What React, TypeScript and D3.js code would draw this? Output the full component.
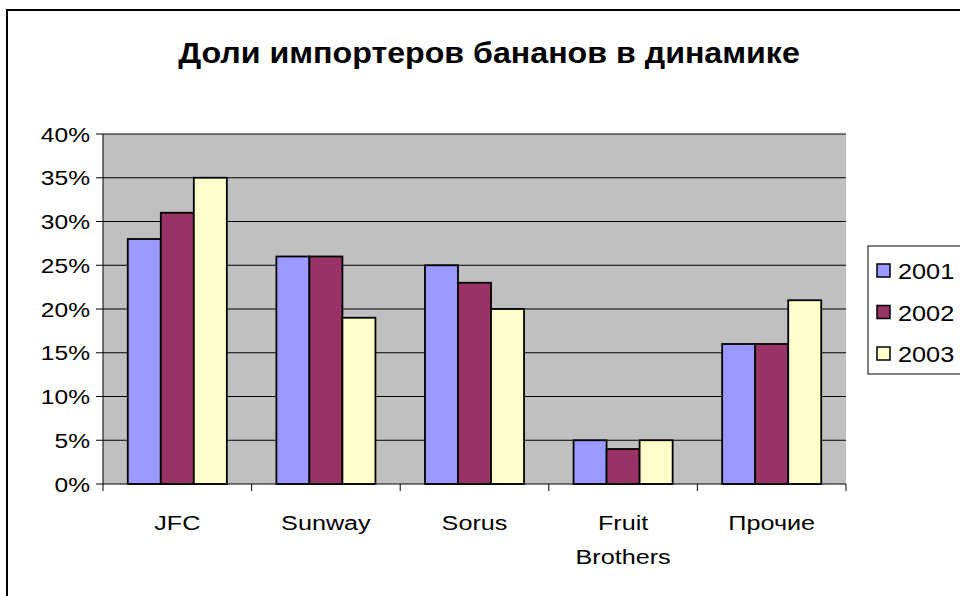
import React from "react";
import * as d3 from "d3";

const categories = ["JFC", "Sunway", "Sorus", "Fruit Brothers", "Прочие"];
const years = ["2001", "2002", "2003"];
const values2001 = [28, 26, 25, 5, 16];
const values2002 = [31, 26, 23, 4, 16];
const values2003 = [35, 19, 20, 5, 21];
const yTicks = [0, 5, 10, 15, 20, 25, 30, 35, 40];
const colors = ["#9999FF", "#993366", "#FFFFCC"];
const title = "Доли импортеров бананов в динамике";

const font = "Arial, 'Liberation Sans', sans-serif";

function T(props: { x: number; y: number; sx: number; size: number; anchor?: string; bold?: boolean; children: any }) {
  return (
    <text transform={`translate(${props.x},${props.y}) scale(${props.sx},1)`} textAnchor={props.anchor || "start"}
      fontFamily={font} fontSize={props.size} fontWeight={props.bold ? "bold" : "normal"}>{props.children}</text>
  );
}

export default function App() {
  const W = 960, H = 596;
  const left = 103, right = 846, top = 134, bottom = 484;
  const series = [values2001, values2002, values2003];
  const x0 = d3.scaleBand().domain(categories).range([left, right]).paddingInner(0).paddingOuter(0);
  const bw = x0.bandwidth();
  const groupW = bw * 3 / 4.5;
  const x1 = d3.scaleBand().domain(years).range([0, groupW]);
  const y = d3.scaleLinear().domain([0, 40]).range([bottom, top]);
  return (
    <svg width={W} height={H} style={{ position: "absolute", left: 0, top: 0 }}>
      <rect x={0} y={0} width={W} height={H} fill="#fff" />
      <rect x={7} y={10} width={W + 20} height={H + 20} fill="#fff" stroke="#000" strokeWidth={2} />
      <T x={489} y={63} sx={1.11} size={29} anchor="middle" bold>{title}</T>
      <rect x={left} y={top} width={right - left} height={bottom - top} fill="#C0C0C0" />
      {yTicks.filter(t => t > 0).map(t => (
        <line key={t} x1={left} x2={right} y1={y(t)} y2={y(t)} stroke="#000" strokeWidth={1} />
      ))}
      {categories.map((c, ci) => (
        <g key={c}>
          {series.map((s, si) => {
            const bx = x0(c)! + (bw - groupW) / 2 + x1(years[si])!;
            return (
              <rect key={si} x={bx} y={y(s[ci])} width={x1.bandwidth()} height={y(0) - y(s[ci])}
                fill={colors[si]} stroke="#000" strokeWidth={1.8} />
            );
          })}
        </g>
      ))}
      <line x1={left} x2={left} y1={top} y2={bottom} stroke="#000" strokeWidth={1} />
      <line x1={left} x2={right} y1={bottom} y2={bottom} stroke="#000" strokeWidth={1} />
      {yTicks.map(t => (
        <g key={t}>
          <line x1={left - 7} x2={left} y1={y(t)} y2={y(t)} stroke="#000" />
          <T x={left - 13} y={y(t) + 7.5} sx={1.17} size={21} anchor="end">{t}%</T>
        </g>
      ))}
      {[...categories.map(c => x0(c)!), right].map((xv, i) => (
        <line key={i} x1={xv} x2={xv} y1={bottom} y2={bottom + 7} stroke="#000" />
      ))}
      {categories.map(c => {
        const cx = x0(c)! + bw / 2;
        const words = c.split(" ");
        return (
          <g key={c}>
            {words.map((w, i) => (
              <T key={i} x={cx} y={530 + i * 34} sx={1.2} size={21} anchor="middle">{w}</T>
            ))}
          </g>
        );
      })}
      <rect x={868} y={246} width={100} height={128} fill="#fff" stroke="#000" strokeWidth={1} />
      {years.map((yr, i) => (
        <g key={yr}>
          <rect x={877} y={264 + i * 41.5} width={13} height={13} fill={colors[i]} stroke="#000" strokeWidth={1.5} />
          <T x={898} y={279 + i * 41.5} sx={1.15} size={22}>{yr}</T>
        </g>
      ))}
    </svg>
  );
}
